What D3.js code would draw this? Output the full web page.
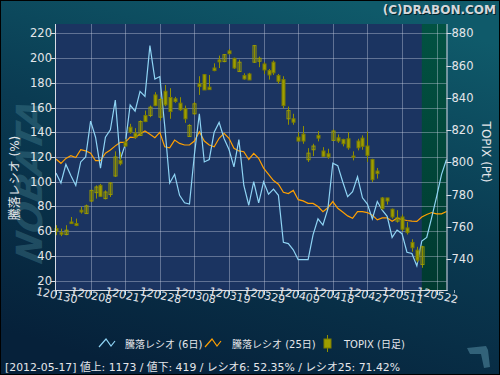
<!DOCTYPE html>
<html>
<head>
<meta charset="utf-8">
<title>騰落レシオ</title>
<script src="https://d3js.org/d3.v7.min.js"></script>
<style>
  body { margin: 0; background: #000; }
  text { font-family: "DejaVu Sans", "Noto Sans CJK JP", sans-serif; }
</style>
</head>
<body>
<script>
// trading days shown on the axis (yymmdd), last five are after the last candle
var days = ["120130","120131","120201","120202","120203","120206","120207","120208","120209","120210",
            "120213","120214","120215","120216","120217","120220","120221","120222","120223","120224",
            "120227","120228","120229","120301","120302","120305","120306","120307","120308","120309",
            "120312","120313","120314","120315","120316","120319","120321","120322","120323","120326",
            "120327","120328","120329","120330","120402","120403","120404","120405","120406","120409",
            "120410","120411","120412","120413","120416","120417","120418","120419","120420","120423",
            "120424","120425","120426","120427","120501","120502","120507","120508","120509","120510",
            "120511","120514","120515","120516","120517","120518","120521","120522","120523","120524"];
var tickDays = ["120130","120208","120217","120228","120308","120319","120329","120409","120418","120427","120511","120522"];

// TOPIX daily candles
var opens  = [758.9,756.4,755.2,763.0,762.0,770.3,768.2,776.0,781.2,785.7,777.5,780.0,791.5,801.2,812.5,821.8,818.1,816.7,829.0,829.0,
              841.8,828.0,844.1,840.2,839.4,836.7,833.2,816.0,830.1,848.7,854.4,846.6,858.5,863.5,862.5,869.1,864.5,856.3,853.8,854.8,
              862.1,862.7,861.0,856.9,862.1,853.8,851.3,827.0,827.0,815.6,817.5,801.6,807.8,816.7,807.0,805.3,813.6,815.2,814.2,814.6,
              803.9,813.2,815.0,810.1,801.8,794.6,777.9,777.9,770.9,763.5,766.1,759.3,750.3,745.5,736.6];
var highs  = [761.0,758.9,761.0,766.1,765.1,772.3,773.8,783.0,785.7,786.6,782.6,787.8,806.8,806.4,814.6,823.9,821.2,826.0,832.1,835.2,
              843.5,840.4,848.0,846.0,840.6,840.4,835.2,823.7,837.3,853.4,854.8,854.2,861.4,866.2,867.2,870.3,864.9,863.7,855.2,855.5,
              872.8,865.6,862.1,857.9,863.1,854.8,853.4,834.6,830.1,818.7,822.5,808.8,811.5,819.4,809.4,808.4,820.4,817.3,814.6,818.7,
              806.8,814.6,816.7,819.1,802.2,796.5,778.5,777.9,771.3,770.3,767.6,763.0,752.3,747.6,748.2];
var lows   = [754.8,754.2,754.8,761.8,760.4,768.2,768.0,775.4,777.5,778.5,777.0,778.5,790.9,798.1,809.5,817.7,814.6,816.3,824.9,828.0,
              834.8,825.9,834.8,827.0,836.9,831.9,824.5,815.8,829.5,841.8,844.9,844.9,856.5,858.5,862.1,866.8,857.9,856.3,851.3,851.1,
              861.6,859.0,854.8,851.3,854.2,848.7,833.6,823.3,823.3,813.0,811.5,800.2,803.9,813.0,803.3,802.2,813.2,812.1,809.9,807.8,
              801.2,807.4,807.8,800.2,787.8,789.9,770.3,773.8,765.1,762.6,757.3,755.2,744.5,737.9,734.6];
var closes = [757.3,755.4,757.9,762.0,760.8,769.2,773.0,782.6,784.7,778.9,781.6,787.2,803.3,799.1,810.1,818.7,815.6,825.3,825.3,834.2,
              835.2,839.0,835.7,831.5,837.7,832.6,827.0,822.9,836.3,847.0,844.9,845.1,856.9,862.3,866.8,867.4,858.5,862.1,851.7,851.1,
              872.4,864.5,857.3,854.2,855.5,850.3,835.2,832.1,824.9,813.2,813.2,805.7,810.1,815.0,803.7,803.3,819.4,813.2,811.5,809.0,
              803.1,809.0,809.9,804.3,789.2,793.0,771.3,776.0,766.1,765.5,758.5,756.4,747.0,739.3,747.6];

// advance/decline ratio (%)
var ratio6  = [107,99,114,105,97,116,120,149,136,111,136,142,166,118,130,162,157,173,169,210,
               183,185,145,99,106,89,83,82,122,155,116,118,140,148,135,126,112,134,97,81,
               100,83,100,90,94,89,51,50,45,37,37,37,57,70,65,78,115,113,100,88,
               92,104,87,82,70,84,77,72,55,61,58,43,42,32,52,55,71,88,106,118];
var ratio25 = [118.4,114.9,118.9,121.1,119.5,126,125,123,117,117,123,125.6,129,131.8,131.8,136,135.6,138.6,141,138.3,
               135.6,139.9,128.3,127.5,133.7,131,129.7,129.7,132.9,140.4,132.9,129.7,128.3,135.1,139.1,135.1,127,124.9,124.3,118,
               123,119,111,106,101,98,91.5,90.5,93,85.5,84.5,82.5,82.5,80,75.8,79,84,78.5,75.5,72.4,
               70.5,75.9,75.9,75.1,73,69.2,70.8,70.8,68.1,70.5,69.5,68.7,68.1,67.9,71.5,73.5,75.1,74,74,75.9];

var leftTicks  = [20,40,60,80,100,120,140,160,180,200,220];
var rightTicks = [740,760,780,800,820,840,860,880];

var lastDate = "2012-05-17", advances = 1173, declines = 419, last6 = "52.35", last25 = "71.42";

var W = 500, H = 375;
var L = 56, R = 446.5, T = 24, B = 290;

var svg = d3.select("body").append("svg")
    .attr("width", W).attr("height", H);

var defs = svg.append("defs");
var bg = defs.append("linearGradient").attr("id", "bg")
    .attr("x1", "0.7").attr("y1", "0").attr("x2", "0.3").attr("y2", "1");
bg.append("stop").attr("offset", "0").attr("stop-color", "#0f5a6a");
bg.append("stop").attr("offset", "0.45").attr("stop-color", "#0a3b52");
bg.append("stop").attr("offset", "1").attr("stop-color", "#06213a");
var gb = defs.append("linearGradient").attr("id", "gb")
    .attr("x1", "0").attr("y1", "0").attr("x2", "0").attr("y2", "1");
gb.append("stop").attr("offset", "0").attr("stop-color", "#025242");
gb.append("stop").attr("offset", "1").attr("stop-color", "#003a30");

svg.append("rect").attr("x", 0.5).attr("y", 0.5).attr("width", W - 1).attr("height", H - 1)
    .attr("fill", "url(#bg)").attr("stroke", "#000");

// watermark
svg.append("text")
    .attr("transform", "translate(42,184) rotate(-90) skewX(-12)")
    .attr("text-anchor", "middle")
    .style("font-size", "36px").style("font-weight", "bold").style("font-style", "italic")
    .attr("fill", "#4d8a9a").attr("opacity", 0.35)
    .text("NOBATA");

var x  = d3.scaleLinear().domain([0, days.length - 1]).range([L, R]);
var yL = d3.scaleLinear().domain([12.5, 227.5]).range([B, T]);
var yR = d3.scaleLinear().domain([720.8, 885.8]).range([B, T]);

var lastIdx = closes.length - 1;

// plot area
svg.append("rect").attr("x", L).attr("y", T).attr("width", R - L).attr("height", B - T)
    .attr("fill", "#1b3461");
svg.append("rect").attr("x", x(lastIdx)).attr("y", T).attr("width", R - x(lastIdx)).attr("height", B - T)
    .attr("fill", "url(#gb)");

var tickIdx = tickDays.map(function(d) { return days.indexOf(d); });

var grid = svg.append("g").attr("stroke", "#c8d0e0").attr("stroke-opacity", 0.4).attr("stroke-width", 1);
grid.selectAll(".h").data(leftTicks).enter().append("line")
    .attr("x1", L).attr("x2", R)
    .attr("y1", function(d) { return Math.round(yL(d)) + 0.5; })
    .attr("y2", function(d) { return Math.round(yL(d)) + 0.5; });
grid.selectAll(".v").data(tickIdx.slice(1)).enter().append("line")
    .attr("y1", T).attr("y2", B)
    .attr("x1", function(d) { return Math.round(x(d)) + 0.5; })
    .attr("x2", function(d) { return Math.round(x(d)) + 0.5; });

// ratio lines
var line = d3.line().x(function(d, i) { return x(i); }).y(function(d) { return yL(d); });
svg.append("path").datum(ratio25).attr("d", line)
    .attr("fill", "none").attr("stroke", "#ffa000").attr("stroke-width", 1.2);
svg.append("path").datum(ratio6).attr("d", line)
    .attr("fill", "none").attr("stroke", "#8fd4f4").attr("stroke-width", 1.2);

// candles
var candles = svg.append("g").selectAll("g").data(closes).enter().append("g");
candles.append("line")
    .attr("x1", function(d, i) { return Math.round(x(i)) + 0.5; })
    .attr("x2", function(d, i) { return Math.round(x(i)) + 0.5; })
    .attr("y1", function(d, i) { return yR(highs[i]); })
    .attr("y2", function(d, i) { return yR(lows[i]); })
    .attr("stroke", "#8f8f00").attr("stroke-width", 1);
candles.append("rect")
    .attr("x", function(d, i) { return Math.round(x(i)) - 1; })
    .attr("width", 3)
    .attr("y", function(d, i) { return yR(Math.max(opens[i], d)); })
    .attr("height", function(d, i) { return Math.max(1, Math.abs(yR(opens[i]) - yR(d))); })
    .attr("fill", function(d, i) { return d < opens[i] ? "#9e9e00" : "none"; })
    .attr("stroke", function(d, i) { return d < opens[i] ? "#7c7c00" : "#9a9a00"; })
    .attr("stroke-width", 1);

// axes
var axisColor = "#d8dce4";
var axes = svg.append("g").attr("stroke", axisColor).attr("stroke-width", 1);
axes.append("line").attr("x1", L - 0.5).attr("x2", L - 0.5).attr("y1", T).attr("y2", B + 1);
axes.append("line").attr("x1", R + 0.5).attr("x2", R + 0.5).attr("y1", T).attr("y2", B + 1);
axes.append("line").attr("x1", L - 1).attr("x2", R + 1).attr("y1", B + 0.5).attr("y2", B + 0.5);

axes.selectAll(".lt").data(leftTicks).enter().append("line")
    .attr("x1", L - 5).attr("x2", L)
    .attr("y1", function(d) { return Math.round(yL(d)) + 0.5; })
    .attr("y2", function(d) { return Math.round(yL(d)) + 0.5; });
axes.selectAll(".rt").data(rightTicks).enter().append("line")
    .attr("x1", R).attr("x2", R + 5)
    .attr("y1", function(d) { return Math.round(yR(d)) + 0.5; })
    .attr("y2", function(d) { return Math.round(yR(d)) + 0.5; });
axes.selectAll(".bt").data(tickIdx).enter().append("line")
    .attr("x1", function(d) { return Math.round(x(d)) + 0.5; })
    .attr("x2", function(d) { return Math.round(x(d)) + 0.5; })
    .attr("y1", B).attr("y2", B + 5);
axes.selectAll(".mt").data(tickIdx.map(function(d) { return d + 3.5; })).enter().append("line")
    .attr("x1", function(d) { return Math.round(x(d)) + 0.5; })
    .attr("x2", function(d) { return Math.round(x(d)) + 0.5; })
    .attr("y1", B).attr("y2", B + 3)
    .attr("stroke-opacity", 0.7);

var labelColor = "#e4e6ea";
svg.append("g").selectAll("text").data(leftTicks).enter().append("text")
    .attr("x", L - 4).attr("y", function(d) { return yL(d) + 4; })
    .attr("text-anchor", "end").attr("fill", labelColor)
    .style("font-size", "11.5px")
    .text(function(d) { return d; });
svg.append("g").selectAll("text").data(rightTicks).enter().append("text")
    .attr("x", R + 5).attr("y", function(d) { return yR(d) + 4; })
    .attr("fill", labelColor)
    .style("font-size", "11.5px")
    .text(function(d) { return d; });
svg.append("g").selectAll("text").data(tickIdx).enter().append("text")
    .attr("transform", function(d) { return "translate(" + x(d) + "," + (B + 9) + ") rotate(12)"; })
    .attr("text-anchor", "middle").attr("fill", labelColor)
    .style("font-size", "11px")
    .text(function(d) { return days[d]; });

// axis titles
svg.append("text")
    .attr("transform", "translate(19,178) rotate(-90)")
    .attr("text-anchor", "middle").attr("fill", labelColor)
    .style("font-size", "12px")
    .text("騰落レシオ (%)");
svg.append("text")
    .attr("transform", "translate(482,152) rotate(90)")
    .attr("text-anchor", "middle").attr("fill", labelColor)
    .style("font-size", "12px")
    .text("TOPIX (Pt)");

// copyright
svg.append("text").attr("x", 497).attr("y", 15).attr("text-anchor", "end")
    .attr("fill", "#000").attr("opacity", 0.6)
    .style("font-size", "12px").style("font-weight", "bold")
    .text("(C)DRABON.COM");
svg.append("text").attr("x", 496).attr("y", 14).attr("text-anchor", "end")
    .attr("fill", "#d4d8dc")
    .style("font-size", "12px").style("font-weight", "bold")
    .text("(C)DRABON.COM");

// legend
var lg = svg.append("g");
lg.append("path").attr("d", "M99,347L106,339L111,346L115,341")
    .attr("fill", "none").attr("stroke", "#8fd4f4").attr("stroke-width", 1.2);
lg.append("text").attr("x", 125).attr("y", 348).attr("fill", labelColor)
    .style("font-size", "10px").text("騰落レシオ (6日)");
lg.append("path").attr("d", "M205,347L212,339L217,346L221,341")
    .attr("fill", "none").attr("stroke", "#ffa000").attr("stroke-width", 1.2);
lg.append("text").attr("x", 232).attr("y", 348).attr("fill", labelColor)
    .style("font-size", "10px").text("騰落レシオ (25日)");
lg.append("line").attr("x1", 327.5).attr("x2", 327.5).attr("y1", 335).attr("y2", 352)
    .attr("stroke", "#8f8f00");
lg.append("rect").attr("x", 324).attr("y", 339).attr("width", 7).attr("height", 9)
    .attr("fill", "#9e9e00").attr("stroke", "#7c7c00");
lg.append("text").attr("x", 344).attr("y", 348).attr("fill", labelColor)
    .style("font-size", "10px").text("TOPIX (日足)");

// footer
svg.append("text").attr("x", 5).attr("y", 371).attr("fill", labelColor)
    .style("font-size", "11px")
    .attr("textLength", 395).attr("lengthAdjust", "spacingAndGlyphs")
    .text("[" + lastDate + "]  値上: " + advances + " / 値下: " + declines +
          " / レシオ6: " + last6 + "% / レシオ25: " + last25 + "%");

// corner mark
svg.append("path")
    .attr("d", "M467,348L486,346L488,350L490,367L484,368L481,354L470,354Z")
    .attr("fill", "#3d6f86").attr("opacity", 0.8);
</script>
</body>
</html>
